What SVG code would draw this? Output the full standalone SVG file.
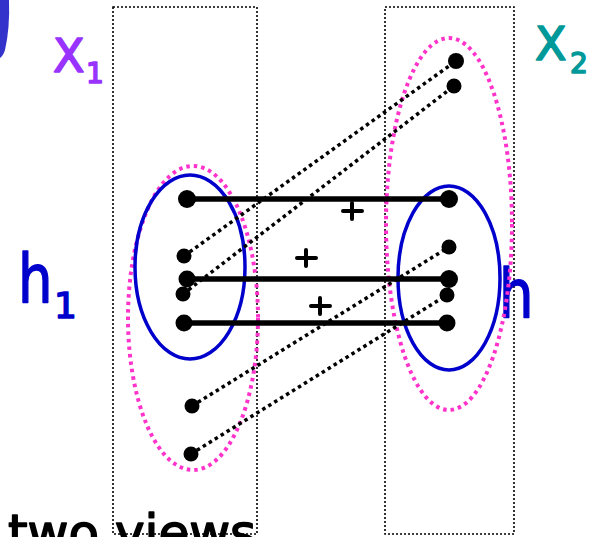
<svg xmlns="http://www.w3.org/2000/svg" width="591" height="537" viewBox="0 0 591 537">
<style>
.box{fill:none;stroke:#000;stroke-width:1.6;stroke-dasharray:2 2}
.pink{fill:none;stroke:#ff33cc;stroke-width:4;stroke-dasharray:3.5 4}
.blue{fill:none;stroke:#0000cc;stroke-width:3.5}
.solid{stroke:#000;stroke-width:5.5}
.dot{stroke:#000;stroke-width:3.5;stroke-dasharray:3.5 3.5}
.plus{stroke:#000;stroke-width:4;stroke-linecap:round}
.lbl{font-family:"DejaVu Sans",sans-serif;stroke-width:1.6;stroke-linejoin:round}
</style>
<rect width="591" height="537" fill="#fff"/>
<path d="M0,0 L9,0 Q10,28 5,50 Q3,56 0,58 Z" fill="#3333cc"/>
<g id="view1"><rect class="box" x="113" y="7" width="144" height="527"/></g>
<g id="view2"><rect class="box" x="385" y="7" width="129" height="527"/></g>
<g id="labels">
<text class="lbl" x="53" y="72" font-size="46" fill="#9933ff" stroke="#9933ff">X</text>
<text class="lbl" x="86" y="83" font-size="28" fill="#9933ff" stroke="#9933ff">1</text>
<text class="lbl" x="535" y="60" font-size="46" fill="#009999" stroke="#009999">X</text>
<text class="lbl" x="570" y="73" font-size="28" fill="#009999" stroke="#009999">2</text>
<text class="lbl" transform="translate(18,303) scale(0.8,1)" font-size="68" fill="#0000cc" stroke="#0000cc">h</text>
<text class="lbl" x="54" y="318" font-size="36" fill="#0000cc" stroke="#0000cc">1</text>
<text class="lbl" transform="translate(499,318) scale(0.8,1)" font-size="68" fill="#0000cc" stroke="#0000cc">h</text>
<text class="lbl" x="8" y="550" font-size="50" fill="#000" stroke="#000">two views</text>
</g>
<g id="clusters">
<ellipse class="pink" cx="193" cy="318" rx="65" ry="152"/>
<ellipse class="pink" cx="449" cy="224" rx="63" ry="186"/>
<ellipse class="blue" cx="190" cy="267" rx="55" ry="92"/>
<ellipse class="blue" cx="449" cy="278" rx="51" ry="92"/>
</g>
<g id="connectors">
<line class="solid" x1="187" y1="199" x2="449" y2="199"/>
<line class="solid" x1="187" y1="279" x2="449" y2="279"/>
<line class="solid" x1="184" y1="323" x2="447" y2="323"/>
<line class="dot" x1="184" y1="256" x2="456" y2="61"/>
<line class="dot" x1="183" y1="294" x2="454" y2="86"/>
<line class="dot" x1="192" y1="406" x2="449" y2="247"/>
<line class="dot" x1="191" y1="454" x2="447" y2="295"/>
</g>
<g id="plus-signs">
<path class="plus" d="M343,211 h19 M352,203 v16"/>
<path class="plus" d="M297,258 h19 M306,250 v16"/>
<path class="plus" d="M311,306 h19 M320,298 v16"/>
</g>
<g id="points" fill="#000">
<circle cx="187" cy="199" r="9"/>
<circle cx="184" cy="256" r="7.5"/>
<circle cx="187" cy="279" r="8.5"/>
<circle cx="183" cy="294" r="7.5"/>
<circle cx="184" cy="323" r="8.5"/>
<circle cx="192" cy="406" r="7.5"/>
<circle cx="191" cy="454" r="7.5"/>
<circle cx="456" cy="61" r="8"/>
<circle cx="454" cy="86" r="7.5"/>
<circle cx="449" cy="199" r="9"/>
<circle cx="449" cy="247" r="7.5"/>
<circle cx="449" cy="279" r="9"/>
<circle cx="447" cy="295" r="7.5"/>
<circle cx="447" cy="323" r="8.5"/>
</g>
</svg>
